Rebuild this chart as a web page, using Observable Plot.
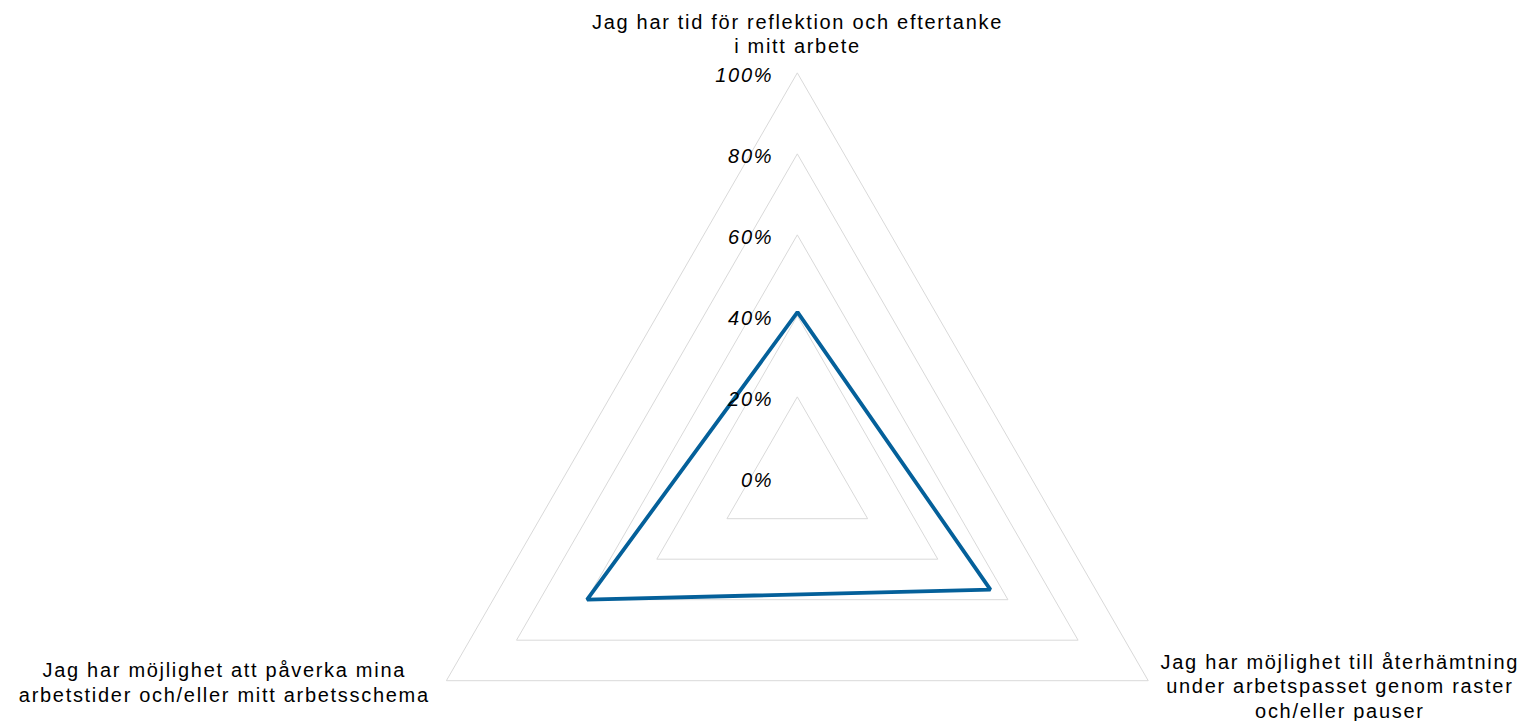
<!DOCTYPE html>
<html>
<head>
<meta charset="utf-8">
<script src="https://cdn.jsdelivr.net/npm/d3@7"></script>
<script src="https://cdn.jsdelivr.net/npm/@observablehq/plot@0.6"></script>
<style>
  html, body { margin: 0; padding: 0; background: #fff; }
  #chart svg text { letter-spacing: 1.7px; }
</style>
</head>
<body>
<div id="chart"></div>
<script>
// ---- data ----
const categories = [
  "Jag har tid för reflektion och eftertanke\ni mitt arbete",
  "Jag har möjlighet till återhämtning\nunder arbetspasset genom raster\noch/eller pauser",
  "Jag har möjlighet att påverka mina\narbetstider och/eller mitt arbetsschema"
];
const values = [0.41, 0.55, 0.60];
const ticks = [0, 0.2, 0.4, 0.6, 0.8, 1.0];
const tickLabels = ["0%", "20%", "40%", "60%", "80%", "100%"];

// ---- geometry (polar -> cartesian in data units, radius 1 = 100%) ----
const W = 1528, H = 721;
const R = 405, cx = 797, cy = 477.7;  // pixel layout of the radar
const n = categories.length;
const ang = i => Math.PI / 2 - i * 2 * Math.PI / n;
const px = (r, i) => r * Math.cos(ang(i));
const py = (r, i) => r * Math.sin(ang(i));

const rings = ticks.filter(t => t > 0).flatMap(t => categories.map((c, i) => ({t, i})));
const series = values.map((v, i) => ({v, i}));
const tickData = ticks.map((t, k) => ({t, label: tickLabels[k]}));
const labelData = categories.map((c, i) => ({c, i}));

const font = "'Liberation Sans', Arial, sans-serif";
const FS = 20, LH = 1.215;

const chart = Plot.plot({
  width: W,
  height: H,
  margin: 0,
  x: {domain: [-cx / R, (W - cx) / R], axis: null},
  y: {domain: [(cy - H) / R, cy / R], axis: null},
  style: {fontFamily: font, background: "#fff"},
  marks: [
    Plot.line(rings, {
      x: d => px(d.t, d.i), y: d => py(d.t, d.i), z: "t",
      curve: "linear-closed", stroke: "#d9d9d9", strokeWidth: 1
    }),
    Plot.line(series, {
      x: d => px(d.v, d.i), y: d => py(d.v, d.i),
      curve: "linear-closed", stroke: "#04609a", strokeWidth: 3.8,
      strokeLinejoin: "miter"
    }),
    Plot.text(tickData, {
      x: d => px(d.t, 0), y: d => py(d.t, 0), text: "label",
      textAnchor: "end", dx: -24.3, dy: 2.5, fontSize: FS,
      fontStyle: "italic", fill: "#000"
    }),
    Plot.text(labelData.filter(d => d.i === 0), {
      x: d => px(1, d.i), y: d => py(1, d.i), text: "c",
      textAnchor: "middle", lineAnchor: "bottom", lineHeight: LH,
      dx: 0, dy: -20, fontSize: FS, fill: "#000"
    }),
    Plot.text(labelData.filter(d => d.i === 1), {
      x: d => px(1, d.i), y: d => py(1, d.i), text: "c",
      textAnchor: "middle", lineAnchor: "bottom", lineHeight: LH,
      dx: 191.6, dy: 37, fontSize: FS, fill: "#000"
    }),
    Plot.text(labelData.filter(d => d.i === 2), {
      x: d => px(1, d.i), y: d => py(1, d.i), text: "c",
      textAnchor: "middle", lineAnchor: "bottom", lineHeight: LH,
      dx: -222.5, dy: 21, fontSize: FS, fill: "#000"
    })
  ]
});
document.getElementById("chart").appendChild(chart);
</script>
</body>
</html>
